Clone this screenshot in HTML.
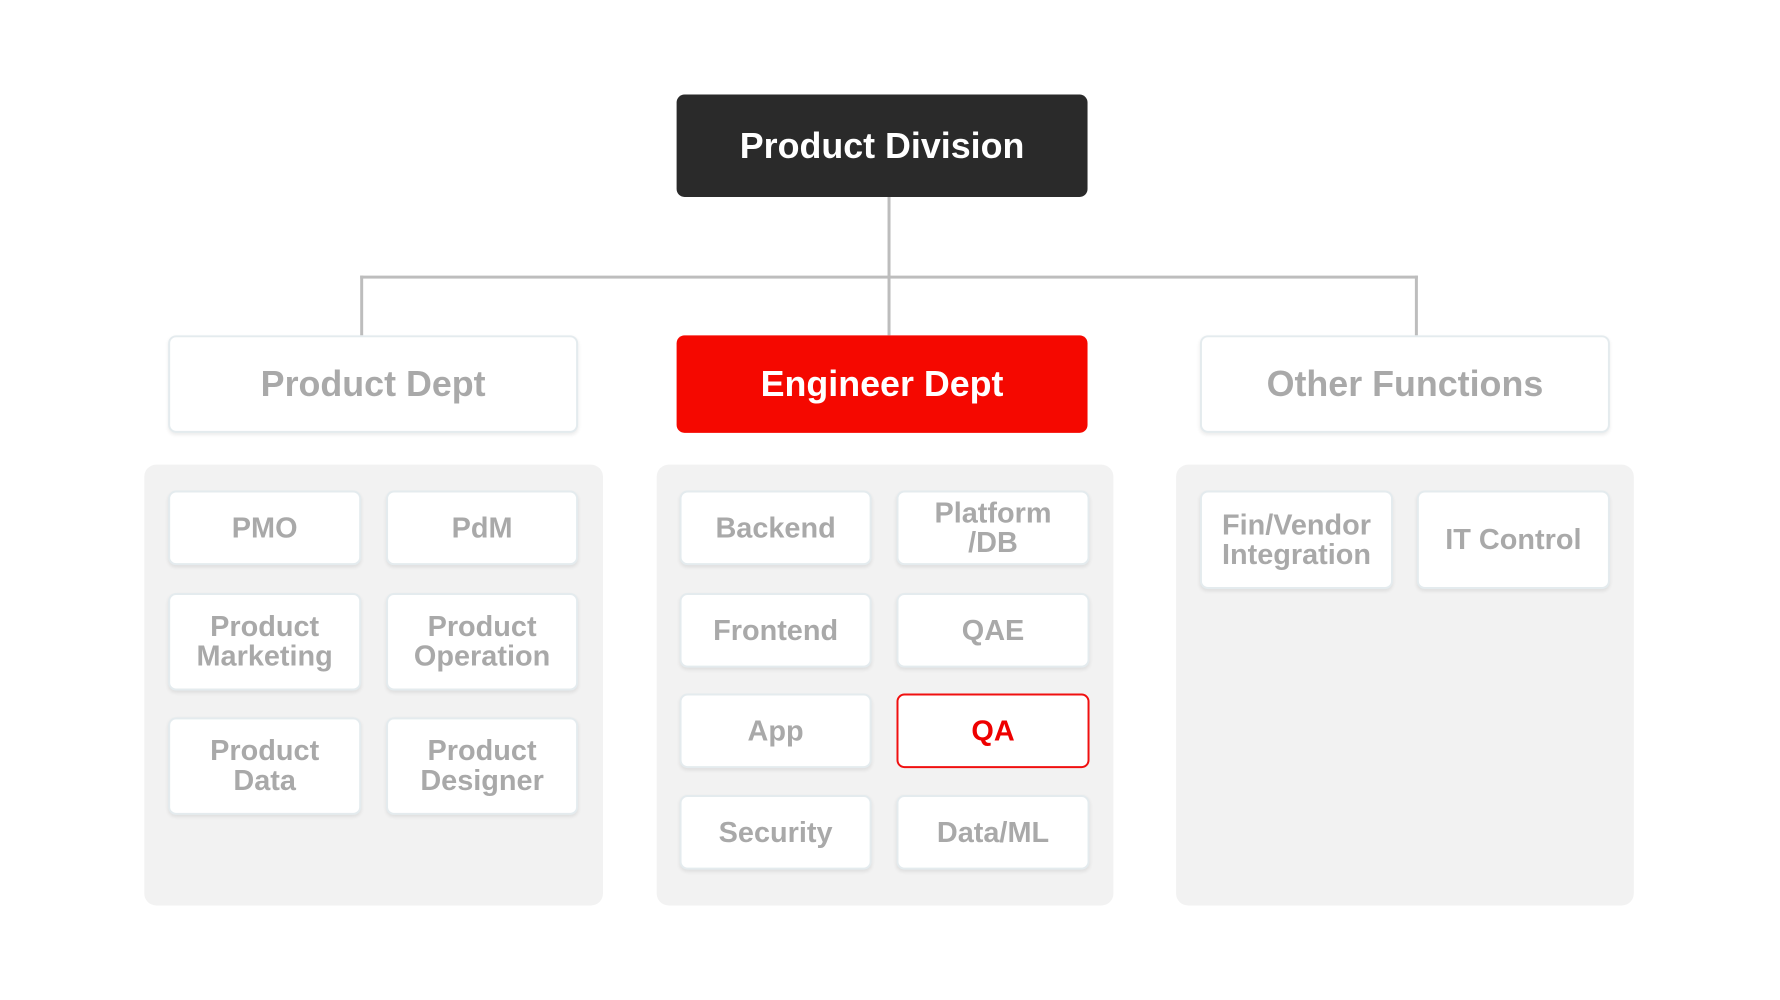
<!DOCTYPE html>
<html><head><style>
body{margin:0;width:1780px;height:1000px;background:#fff;position:relative;overflow:hidden;font-family:"Liberation Sans",sans-serif;font-weight:bold}
#c{position:absolute;left:0;top:0;width:1780px;height:1000px;transform:scale(0.995);transform-origin:0 0}
.b{position:absolute;box-sizing:border-box;display:flex;align-items:center;justify-content:center;text-align:center;border-radius:8px}
.w{background:#fff;border:2px solid #e4ebee;box-shadow:0 2px 4px rgba(0,0,0,0.08);color:#a9a9a9}
.s{font-size:29px;line-height:30px}
.d{font-size:36px}
.p{position:absolute;background:#f2f2f2;border-radius:12px}
.l{position:absolute;background:#bdbdbd}
</style></head><body><div id="c">
<div class="l" style="left:892px;top:197px;width:3px;height:140px"></div>
<div class="l" style="left:362px;top:277px;width:1063px;height:3px"></div>
<div class="l" style="left:362px;top:277px;width:3px;height:60px"></div>
<div class="l" style="left:1422px;top:277px;width:3px;height:60px"></div>
<div class="b d" style="left:680px;top:95px;width:413px;height:103px;background:#2a2a2a;color:#fff">Product Division</div>
<div class="b w d" style="left:169px;top:337px;width:412px;height:98px">Product Dept</div>
<div class="b d" style="left:680px;top:337px;width:413px;height:98px;background:#f50800;color:#fff">Engineer Dept</div>
<div class="b w d" style="left:1206px;top:337px;width:412px;height:98px">Other Functions</div>
<div class="p" style="left:145px;top:467px;width:461px;height:443px"></div>
<div class="p" style="left:660px;top:467px;width:459px;height:443px"></div>
<div class="p" style="left:1182px;top:467px;width:460px;height:443px"></div>
<div class="b w s" style="left:169px;top:493px;width:194px;height:75px">PMO</div>
<div class="b w s" style="left:388px;top:493px;width:193px;height:75px">PdM</div>
<div class="b w s" style="left:169px;top:596px;width:194px;height:98px">Product<br>Marketing</div>
<div class="b w s" style="left:388px;top:596px;width:193px;height:98px">Product<br>Operation</div>
<div class="b w s" style="left:169px;top:721px;width:194px;height:98px">Product<br>Data</div>
<div class="b w s" style="left:388px;top:721px;width:193px;height:98px">Product<br>Designer</div>
<div class="b w s" style="left:683px;top:493px;width:193px;height:75px">Backend</div>
<div class="b w s" style="left:901px;top:493px;width:194px;height:75px">Platform<br>/DB</div>
<div class="b w s" style="left:683px;top:596px;width:193px;height:75px">Frontend</div>
<div class="b w s" style="left:901px;top:596px;width:194px;height:75px">QAE</div>
<div class="b w s" style="left:683px;top:697px;width:193px;height:75px">App</div>
<div class="b s" style="left:901px;top:697px;width:194px;height:75px;background:#fff;border:2px solid #f01010;color:#ee0000">QA</div>
<div class="b w s" style="left:683px;top:799px;width:193px;height:75px">Security</div>
<div class="b w s" style="left:901px;top:799px;width:194px;height:75px">Data/ML</div>
<div class="b w s" style="left:1206px;top:493px;width:194px;height:99px">Fin/Vendor<br>Integration</div>
<div class="b w s" style="left:1424px;top:493px;width:194px;height:99px">IT Control</div>
</div></body></html>
